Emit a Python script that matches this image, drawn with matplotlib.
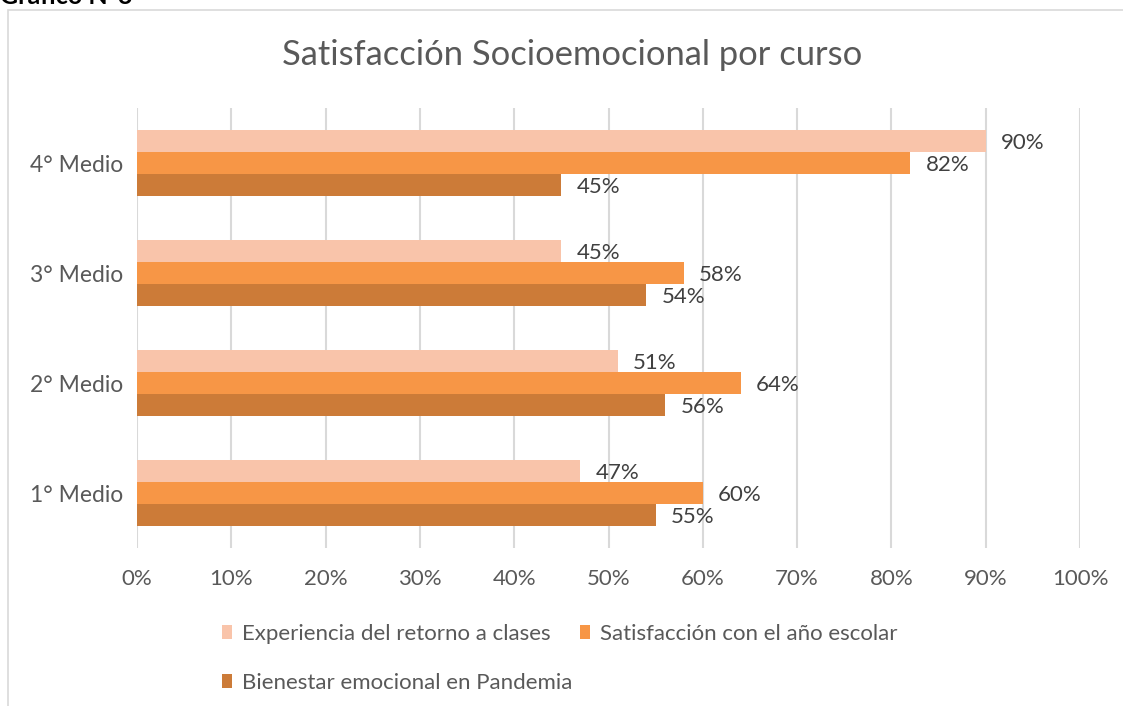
import matplotlib
matplotlib.use("Agg")
import matplotlib.pyplot as plt
from matplotlib.patches import Rectangle, Patch
import numpy as np

plt.rcParams['font.family'] = ['Lato', 'DejaVu Sans']

categories = ["1° Medio", "2° Medio", "3° Medio", "4° Medio"]
series_names = ["Experiencia del retorno a clases", "Satisfacción con el año escolar",
                "Bienestar emocional en Pandemia"]
experiencia = [47, 51, 45, 90]
satisfaccion = [60, 64, 58, 82]
bienestar = [55, 56, 54, 45]
colors = ["#F9C4AA", "#F79646", "#CC7B38"]
x_ticks = [0, 10, 20, 30, 40, 50, 60, 70, 80, 90, 100]

W, H = 1123, 706
fig = plt.figure(figsize=(W / 100, H / 100), dpi=100)

# outer chart frame
fig.patches.append(Rectangle((8 / W, -0.1), 1.2, (H - 10) / H + 0.1, transform=fig.transFigure,
                             fill=False, edgecolor="#D9D9D9", linewidth=1.2))
fig.text(0 / W, (H - 4) / H, "Gráfico N°3", fontsize=18, fontweight="bold",
         color="black", va="baseline", ha="left")

fig.text(572 / W, (H - 55) / H, "Satisfacción Socioemocional por curso", fontsize=24.8,
         color="#595959", ha="center", va="center")

ax = fig.add_axes([137 / W, (H - 548) / H, (1080 - 137) / W, 440 / H])
y = np.arange(len(categories))
h = 0.2
data = [experiencia, satisfaccion, bienestar]
offsets = [h, 0, -h]
handles = []
for vals, off, col, name in zip(data, offsets, colors, series_names):
    ax.barh(y + off, vals, height=h, color=col, label=name, zorder=3)
    handles.append(Patch(facecolor=col, label=name))
    for yy, v in zip(y + off, vals):
        ax.annotate(f"{v}%", (v, yy), xytext=(11, -1.5), textcoords="offset points",
                    va="center", ha="left", fontsize=16, color="#404040")

ax.set_xlim(0, 100)
ax.set_ylim(-0.5, 3.5)
ax.set_xticks(x_ticks)
ax.set_xticklabels([f"{t}%" for t in x_ticks], fontsize=16, color="#595959")
ax.set_yticks(y)
ax.set_yticklabels(categories, fontsize=16.5, color="#595959")
ax.tick_params(length=0, pad=10)
ax.tick_params(axis='x', pad=15)
ax.grid(axis="x", color="#D9D9D9", linewidth=1.5, zorder=0)
for s in ax.spines.values():
    s.set_visible(False)

order = [handles[0], handles[2], handles[1]]
fig.legend(handles=order, labels=[hh.get_label() for hh in order], ncol=2,
           loc="upper left", bbox_to_anchor=(213 / W, (H - 615) / H), frameon=False,
           fontsize=16, labelcolor="#595959", handlelength=0.45, handleheight=0.55,
           handletextpad=0.45, columnspacing=0.35, labelspacing=1.3, borderaxespad=0)

fig.savefig("out.png", dpi=100)
